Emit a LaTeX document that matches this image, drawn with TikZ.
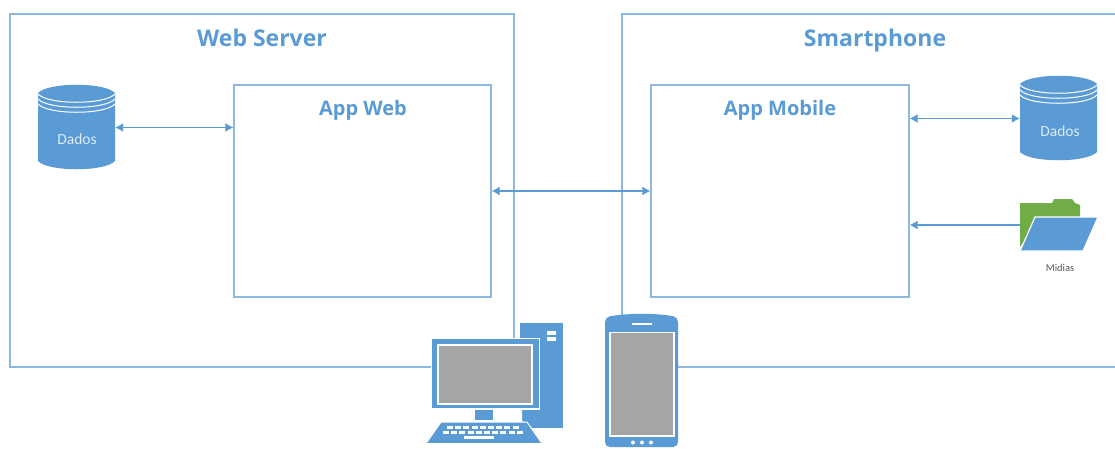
\documentclass[tikz,border=0pt]{standalone}
\usepackage{fontspec}
\setmainfont{Open Sans}
\newfontfamily\carl{Carlito}
\definecolor{bl}{HTML}{5B9BD5}
\definecolor{ln}{HTML}{8DB8E2}
\definecolor{gy}{HTML}{A5A5A5}
\definecolor{gn}{HTML}{70AD47}
\usetikzlibrary{arrows.meta}
\tikzset{
 box/.style={draw=ln,line width=1.3pt,fill=none,inner sep=0pt,minimum width=#1},
 title/.style={text=bl,font=\fontsize{23}{26}\selectfont\bfseries,inner sep=0pt,anchor=base},
 subtitle/.style={text=bl,font=\fontsize{20}{24}\selectfont\bfseries,inner sep=0pt,anchor=base},
 dbtext/.style={text=white!80!bl,font=\carl\fontsize{15.5}{18}\selectfont,inner sep=0pt},
 link/.style={draw=bl,line width=1.2pt,{Latex[length=8pt,width=9pt]}-{Latex[length=8pt,width=9pt]}},
 linkone/.style={draw=bl,line width=1.2pt,-{Latex[length=8pt,width=9pt]}},
 area/.style={inner sep=0pt,minimum width=#1},
}
\newcommand{\dbicon}[2]{%
 \fill[bl] (#1,#2+8) -- (#1,#2+76) .. controls (#1+10,#2+87) and (#1+67,#2+87) .. (#1+77,#2+76) -- (#1+77,#2+8) .. controls (#1+67,#2-3) and (#1+10,#2-3) .. (#1,#2+8) -- cycle;
 \foreach \d in {1,6,11}{\draw[white,line width=1pt] (#1,#2+8+\d) .. controls (#1+10,#2+19+\d) and (#1+67,#2+19+\d) .. (#1+77,#2+8+\d);}
}
\begin{document}
\begin{tikzpicture}[x=1pt,y=-1pt]
\useasboundingbox (0,0) rectangle (1115,448);
\fill[white] (0,0) rectangle (1115,448);
% outer frames
\draw[ln,line width=1.3pt] (514,340) -- (514,14) -- (10,14) -- (10,367) -- (432,367);
\draw[ln,line width=1.3pt] (622,320) -- (622,14) -- (1115,14);
\draw[ln,line width=1.3pt] (675,367) -- (1115,367);
\node[title] (tweb) at (262,46) {Web Server};
\node[title] (tsmart) at (875,46) {Smartphone};
% inner boxes
\node[box=257pt,minimum height=212pt] (appweb) at (362.5,191) {};
\node[box=258pt,minimum height=212pt] (appmobile) at (780,191) {};
\node[subtitle] (tappweb) at (363,115) {App Web};
\node[subtitle] (tappmobile) at (780,115) {App Mobile};
% databases
\dbicon{38}{85}
\dbicon{1020}{76}
\node[area=77pt,minimum height=85pt] (db1) at (76.5,127.5) {};
\node[area=77pt,minimum height=85pt] (db2) at (1058.5,118.5) {};
\node[dbtext] (d1t) at (77,139) {Dados};
\node[dbtext] (d2t) at (1060,131) {Dados};
% folder
\fill[gn] (1020,203) -- (1052,203) -- (1054,199) -- (1072,199) -- (1075,203) -- (1080,205) -- (1080,222) -- (1037,222) -- (1020,247) -- cycle;
\fill[bl,draw=white,line width=1.2pt] (1035,217) -- (1098,217) -- (1083,251) -- (1020,251) -- cycle;
\node[area=77pt,minimum height=51pt] (folder) at (1058.5,225) {};
\node[text=black!65,font=\carl\fontsize{10.5}{12}\selectfont,inner sep=0pt] (midias) at (1060,268) {Midias};
% connectors
\draw[link] (db1.east) -- (db1.east -| appweb.west);
\draw[link] (appweb.east) -- (appmobile.west);
\draw[link] (db2.west -| appmobile.east) -- (db2.west);
\draw[linkone] (folder.west) -- (folder.west -| appmobile.east);
% computer
\fill[bl] (520,323) rectangle (563,428);
\fill[white] (547,331) rectangle (556,334.5);
\fill[white] (547,337) rectangle (556,341);
\fill[bl,draw=white,line width=1.5pt] (431.5,338.5) rectangle (539.5,409);
\draw[white,line width=1.2pt,fill=gy] (438,345) rectangle (532,404);
\fill[bl] (475,410) rectangle (493,420);
\fill[white] (519,410) -- (522,410) -- (522,421) -- (530,426) -- (530,429) -- (519,429) -- cycle;
\fill[bl,draw=white,line width=1pt] (441,422) -- (527,422) -- (542,443.5) -- (426,443.5) -- cycle;
\foreach \r/\s/\n in {425.5/447/8,431/443/9}{
 \foreach \i in {0,...,\n}{\fill[white] ({\s+\i*8.2},\r) rectangle +(6,3);}
}
\fill[white] (464,435.5) rectangle (494,439);
% phone
\fill[bl,rounded corners=5pt] (605,317) .. controls (630,313) and (655,313) .. (678,317) -- (678,447) -- (605,447) -- cycle;
\draw[white,line width=1.2pt,fill=gy] (610,332.5) rectangle (674,436);
\draw[white,line width=1.3pt] (632,324) -- (652,324);
\foreach \x in {633,642,651}{\fill[white] (\x,442.5) circle (2pt);}
\end{tikzpicture}
\end{document}
